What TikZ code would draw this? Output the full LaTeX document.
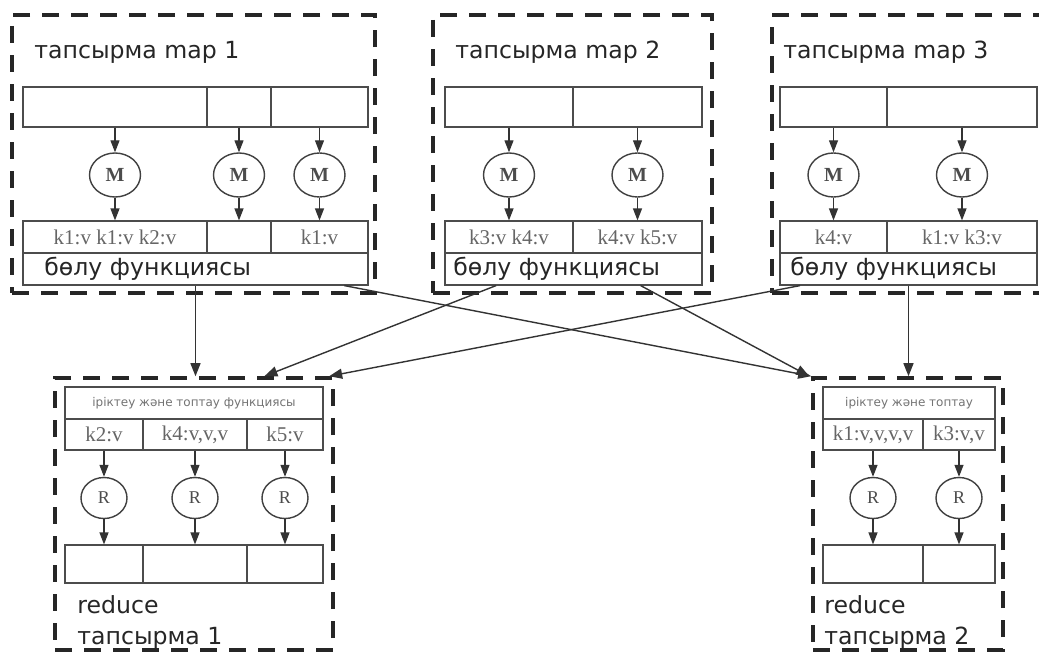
\documentclass[tikz,border=0pt]{standalone}
\usepackage{fontspec}
\setmainfont{Liberation Serif}
\newfontfamily\lblfont{DejaVu Sans}
\usetikzlibrary{shapes.geometric,calc,arrows.meta}

\tikzset{
	task/.style={draw=black!85, line width=1.8pt, dash pattern=on 8.5pt off 6pt, rectangle, inner sep=0},
	cell/.style={draw=black!70, line width=0.6pt, rectangle, inner sep=0, font=\fontsize{10.5}{12}\selectfont, text=black!60},
	head/.style={cell, font=\fontsize{6}{7}\lblfont, text=black!55},
	worker/.style={draw=black!75, line width=0.7pt, ellipse, inner sep=0, font=\fontsize{10}{12}\selectfont\bfseries, text=black!70},
	title/.style={anchor=west, inner sep=0, font=\fontsize{11.8}{14}\lblfont, text=black!85},
	arr/.style={-{Triangle[length=6pt,width=4.5pt]}, line width=0.6pt, black!80},
	link/.style={-{Triangle[length=6.5pt,width=5pt]}, line width=0.7pt, black!80}
}

\begin{document}
\begin{tikzpicture}[x=0.5pt, y=-0.5pt]
	\useasboundingbox[fill=white] (0,0) rectangle (1039,653);

	% map tasks
	\node[task, minimum width=181.5pt, minimum height=139pt] (map1) at (193.5,154) {};
	\node[task, minimum width=139.5pt, minimum height=139pt] (map2) at (572.5,154) {};
	\node[task, minimum width=145pt, minimum height=139pt] (map3) at (917,154) {};

	\node[title] (t1) at (34,52) {тапсырма map 1};
	\node[title] (t2) at (455,52) {тапсырма map 2};
	\node[title] (t3) at (783,52) {тапсырма map 3};

	\node[cell, minimum width=92pt, minimum height=20pt] (in11) at (115,107) {};
	\node[cell, minimum width=32pt, minimum height=20pt] (in12) at (239,107) {};
	\node[cell, minimum width=48.5pt, minimum height=20pt] (in13) at (319.5,107) {};
	\node[cell, minimum width=64pt, minimum height=20pt] (in21) at (509,107) {};
	\node[cell, minimum width=64.5pt, minimum height=20pt] (in22) at (637.5,107) {};
	\node[cell, minimum width=53.5pt, minimum height=20pt] (in31) at (833.5,107) {};
	\node[cell, minimum width=75pt, minimum height=20pt] (in32) at (962,107) {};

	\node[worker, minimum width=25.5pt, minimum height=22pt] (m11) at (115,175) {M};
	\node[worker, minimum width=25.5pt, minimum height=22pt] (m12) at (239,175) {M};
	\node[worker, minimum width=25.5pt, minimum height=22pt] (m13) at (319.5,175) {M};
	\node[worker, minimum width=25.5pt, minimum height=22pt] (m21) at (509,175) {M};
	\node[worker, minimum width=25.5pt, minimum height=22pt] (m22) at (637.5,175) {M};
	\node[worker, minimum width=25.5pt, minimum height=22pt] (m31) at (833.5,175) {M};
	\node[worker, minimum width=25.5pt, minimum height=22pt] (m32) at (962,175) {M};

	\node[cell, minimum width=92pt, minimum height=16pt] (out11) at (115,237) {k1:v k1:v k2:v};
	\node[cell, minimum width=32pt, minimum height=16pt] (out12) at (239,237) {};
	\node[cell, minimum width=48.5pt, minimum height=16pt] (out13) at (319.5,237) {k1:v};
	\node[cell, minimum width=64pt, minimum height=16pt] (out21) at (509,237) {k3:v k4:v};
	\node[cell, minimum width=64.5pt, minimum height=16pt] (out22) at (637.5,237) {k4:v k5:v};
	\node[cell, minimum width=53.5pt, minimum height=16pt] (out31) at (833.5,237) {k4:v};
	\node[cell, minimum width=75pt, minimum height=16pt] (out32) at (962,237) {k1:v k3:v};

	\node[cell, minimum width=172.5pt, minimum height=16pt] (part1) at (195.5,269) {};
	\node[cell, minimum width=128.5pt, minimum height=16pt] (part2) at (573.5,269) {};
	\node[cell, minimum width=128.5pt, minimum height=16pt] (part3) at (908.5,269) {};
	\node[title] (p1) at (44,269) {бөлу функциясы};
	\node[title] (p2) at (453,269) {бөлу функциясы};
	\node[title] (p3) at (790,269) {бөлу функциясы};

	\foreach \i/\j in {11/11,12/12,13/13,21/21,22/22,31/31,32/32} {
		\draw[arr] (in\i) -- (m\i);
		\draw[arr] (m\i) -- (out\j);
	}

	% reduce tasks
	\node[task, minimum width=139pt, minimum height=136pt] (red1) at (194,514) {};
	\node[task, minimum width=95pt, minimum height=136pt] (red2) at (908,514) {};

	\node[head, minimum width=129pt, minimum height=16pt] (s1) at (194,403) {іріктеу және топтау функциясы};
	\node[head, minimum width=86pt, minimum height=16pt] (s2) at (909,403) {іріктеу және топтау};

	\node[cell, minimum width=39pt, minimum height=15.5pt] (k11) at (104,434.5) {k2:v};
	\node[cell, minimum width=52pt, minimum height=15.5pt] (k12) at (195,434.5) {k4:v,v,v};
	\node[cell, minimum width=38pt, minimum height=15.5pt] (k13) at (285,434.5) {k5:v};
	\node[cell, minimum width=50pt, minimum height=15.5pt] (k21) at (873,434.5) {k1:v,v,v,v};
	\node[cell, minimum width=36pt, minimum height=15.5pt] (k22) at (959,434.5) {k3:v,v};

	\node[worker, minimum width=23pt, minimum height=20.5pt, font=\fontsize{9}{11}\selectfont] (r11) at (104,498) {R};
	\node[worker, minimum width=23pt, minimum height=20.5pt, font=\fontsize{9}{11}\selectfont] (r12) at (195,498) {R};
	\node[worker, minimum width=23pt, minimum height=20.5pt, font=\fontsize{9}{11}\selectfont] (r13) at (285,498) {R};
	\node[worker, minimum width=23pt, minimum height=20.5pt, font=\fontsize{9}{11}\selectfont] (r21) at (873,498) {R};
	\node[worker, minimum width=23pt, minimum height=20.5pt, font=\fontsize{9}{11}\selectfont] (r22) at (959,498) {R};

	\node[cell, minimum width=39pt, minimum height=19pt] (o11) at (104,564) {};
	\node[cell, minimum width=52pt, minimum height=19pt] (o12) at (195,564) {};
	\node[cell, minimum width=38pt, minimum height=19pt] (o13) at (285,564) {};
	\node[cell, minimum width=50pt, minimum height=19pt] (o21) at (873,564) {};
	\node[cell, minimum width=36pt, minimum height=19pt] (o22) at (959,564) {};

	\foreach \i in {11,12,13,21,22} {
		\draw[arr] (k\i) -- (r\i);
		\draw[arr] (r\i) -- (o\i);
	}

	\node[title] (rr1) at (77,605) {reduce};
	\node[title] (rt1) at (77,638) {тапсырма 1};
	\node[title] (rr2) at (824,605) {reduce};
	\node[title] (rt2) at (824,638) {тапсырма 2};

	% shuffle
	\draw[link] (part1.south) -- (part1.south |- red1.north);
	\draw[link] ($(part1.south west)!.93!(part1.south east)$) -- (red2.north west);
	\draw[link] ($(part2.south west)!.2!(part2.south east)$) -- ($(red1.north west)!.75!(red1.north east)$);
	\draw[link] ($(part2.south west)!.76!(part2.south east)$) -- ($(red2.north west)+(-2,0)$);
	\draw[link] ($(part3.south west)!.08!(part3.south east)$) -- ($(red1.north west)!.98!(red1.north east)$);
	\draw[link] (part3.south) -- (part3.south |- red2.north);

\end{tikzpicture}
\end{document}
